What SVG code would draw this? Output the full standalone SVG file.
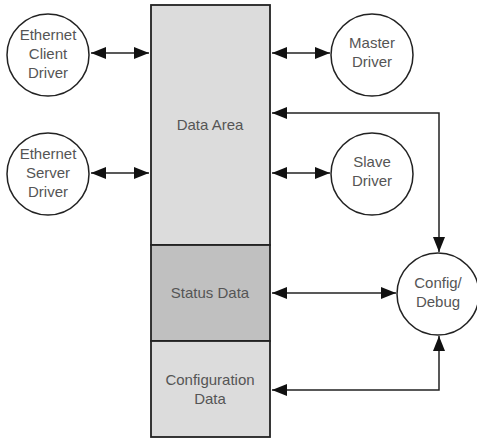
<svg xmlns="http://www.w3.org/2000/svg" width="477" height="438" viewBox="0 0 477 438">
<style>
.c{fill:#fff;stroke:#222;stroke-width:1.5}
.b{stroke:#222;stroke-width:1.8}
.t{font-family:"Liberation Sans",Arial,sans-serif;font-size:15px;fill:#555;text-anchor:middle}
.l{fill:none;stroke:#222;stroke-width:1.5}
</style>
<defs>
<marker id="ah" viewBox="0 0 15 12" markerWidth="15" markerHeight="12" refX="15" refY="6" orient="auto-start-reverse" markerUnits="userSpaceOnUse">
<path d="M0,0 L15,6 L0,12 z" fill="#111"/>
</marker>
</defs>
<rect width="477" height="438" fill="#fff"/>
<g id="data-area"><rect class="b" x="151" y="5" width="119" height="240" fill="#dcdcdc"/><text class="t" x="210" y="130">Data Area</text></g>
<g id="status-data"><rect class="b" x="151" y="245" width="119" height="96" fill="#c0c0c0"/><text class="t" x="210" y="298">Status Data</text></g>
<g id="config-data"><rect class="b" x="151" y="341" width="119" height="96" fill="#dcdcdc"/><text class="t" x="210" y="385">Configuration</text><text class="t" x="210" y="404">Data</text></g>
<g id="eth-client"><circle class="c" cx="48" cy="55" r="41"/><text class="t" x="48" y="40">Ethernet</text><text class="t" x="48" y="59">Client</text><text class="t" x="48" y="78">Driver</text></g>
<g id="eth-server"><circle class="c" cx="48" cy="174" r="41"/><text class="t" x="48" y="159">Ethernet</text><text class="t" x="48" y="178">Server</text><text class="t" x="48" y="197">Driver</text></g>
<g id="master"><circle class="c" cx="372" cy="55" r="41"/><text class="t" x="372" y="48">Master</text><text class="t" x="372" y="67">Driver</text></g>
<g id="slave"><circle class="c" cx="372" cy="174" r="41"/><text class="t" x="372" y="167">Slave</text><text class="t" x="372" y="186">Driver</text></g>
<g id="config-debug"><circle class="c" cx="438" cy="294" r="41"/><text class="t" x="438" y="288">Config/</text><text class="t" x="438" y="307">Debug</text></g>
<g id="connectors">
<line class="l" x1="91" y1="53" x2="149" y2="53" marker-start="url(#ah)" marker-end="url(#ah)"/>
<line class="l" x1="91" y1="173" x2="149" y2="173" marker-start="url(#ah)" marker-end="url(#ah)"/>
<line class="l" x1="272" y1="53" x2="330" y2="53" marker-start="url(#ah)" marker-end="url(#ah)"/>
<line class="l" x1="272" y1="173" x2="330" y2="173" marker-start="url(#ah)" marker-end="url(#ah)"/>
<polyline class="l" points="272,113 439,113 439,252" marker-start="url(#ah)" marker-end="url(#ah)"/>
<line class="l" x1="272" y1="293" x2="396" y2="293" marker-start="url(#ah)" marker-end="url(#ah)"/>
<polyline class="l" points="272,390 439,390 439,336" marker-start="url(#ah)" marker-end="url(#ah)"/>
</g>
</svg>
